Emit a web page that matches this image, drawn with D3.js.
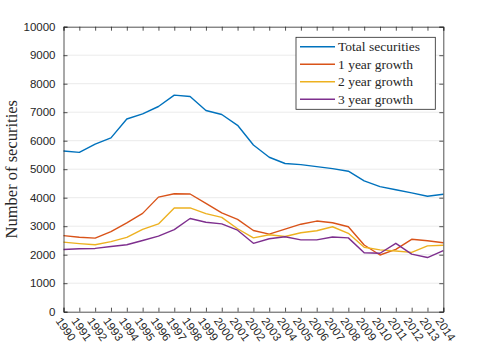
<!DOCTYPE html>
<html>
<head>
<meta charset="utf-8">
<script src="https://cdn.jsdelivr.net/npm/d3@7"></script>
<style>
  body { margin: 0; background: #fff; }
  svg text { fill: #262626; }
</style>
</head>
<body>
<div id="chart"></div>
<script>
const years = d3.range(1990, 2015);
const yTicks = d3.range(0, 10001, 1000);

const seriesNames = ['Total securities', '1 year growth', '2 year growth', '3 year growth'];
const total = [5640, 5590, 5880, 6100, 6760, 6940, 7200, 7600, 7550, 7060, 6920, 6540, 5850, 5420,
    5200, 5160, 5090, 5020, 4930, 4590, 4390, 4280, 4170, 4050, 4120];
const growth1 = [2670, 2610, 2580, 2810, 3120, 3450, 4020, 4140, 4130, 3800, 3470, 3240, 2850, 2720,
    2900, 3070, 3180, 3120, 2980, 2340, 1990, 2190, 2540, 2490, 2420];
const growth2 = [2440, 2390, 2350, 2460, 2610, 2890, 3080, 3640, 3640, 3440, 3310, 2910, 2590, 2700,
    2640, 2770, 2840, 2980, 2750, 2260, 2170, 2130, 2080, 2310, 2330];
const growth3 = [2180, 2210, 2220, 2290, 2350, 2500, 2650, 2880, 3270, 3140, 3080, 2860, 2400, 2560,
    2630, 2520, 2520, 2620, 2590, 2070, 2050, 2400, 2020, 1900, 2140];
const colors = ['#0072BD', '#D95319', '#EDB120', '#7E2F8E'];

const width = 491, height = 351;
const margin = {top: 26.7, right: 47.7, bottom: 39.3, left: 63.5};
const axisColor = '#262626';

const svg = d3.select('#chart').append('svg')
    .attr('width', width)
    .attr('height', height);

const x = d3.scaleLinear().domain([1990, 2014]).range([margin.left, width - margin.right]);
const y = d3.scaleLinear().domain([0, 10000]).range([height - margin.bottom, margin.top]);

// grid
svg.append('g')
    .selectAll('line')
    .data(yTicks.slice(1, -1))
    .join('line')
    .attr('x1', x(1990)).attr('x2', x(2014))
    .attr('y1', d => y(d)).attr('y2', d => y(d))
    .attr('stroke', '#ebebeb')
    .attr('stroke-width', 1);

// lines
const line = d3.line().x((d, i) => x(years[i])).y(d => y(d));
[total, growth1, growth2, growth3].forEach((s, i) => {
    svg.append('path')
        .attr('d', line(s))
        .attr('fill', 'none')
        .attr('stroke', colors[i])
        .attr('stroke-width', 1.4)
        .attr('stroke-linejoin', 'round');
});

// axes (ticks inside)
const tickLen = 4;
const axBottom = svg.append('g')
    .attr('transform', `translate(0,${y(0)})`)
    .call(d3.axisBottom(x).tickValues(years).tickSize(-tickLen).tickFormat(''));
const axTop = svg.append('g')
    .attr('transform', `translate(0,${y(10000)})`)
    .call(d3.axisTop(x).tickValues(years).tickSize(-tickLen).tickFormat(''));
const axLeft = svg.append('g')
    .attr('transform', `translate(${x(1990)},0)`)
    .call(d3.axisLeft(y).tickValues(yTicks).tickSize(-tickLen).tickPadding(8).tickFormat(d3.format('d')));
const axRight = svg.append('g')
    .attr('transform', `translate(${x(2014)},0)`)
    .call(d3.axisRight(y).tickValues(yTicks).tickSize(-tickLen).tickFormat(''));

[axBottom, axTop, axLeft, axRight].forEach(g => {
    g.select('.domain').attr('stroke', axisColor).attr('stroke-width', 0.8);
    g.selectAll('.tick line').attr('stroke', axisColor).attr('stroke-width', 0.8);
});
axLeft.selectAll('.tick text')
    .attr('font-family', 'Liberation Sans, Arial, sans-serif')
    .attr('font-size', 11.5)
    .attr('fill', axisColor);

// rotated year labels
svg.append('g')
    .selectAll('text')
    .data(years)
    .join('text')
    .attr('transform', d => `translate(${x(d) - 5},${y(0) + 7}) rotate(55)`)
    .attr('text-anchor', 'start')
    .attr('dy', '0.35em')
    .attr('font-family', 'Liberation Sans, Arial, sans-serif')
    .attr('font-size', 11.5)
    .text(d => d);

// y label
svg.append('text')
    .attr('transform', `translate(17,${(y(0) + y(10000)) / 2}) rotate(-90)`)
    .attr('text-anchor', 'middle')
    .attr('font-family', 'Liberation Serif, serif')
    .attr('font-size', 16.5)
    .text('Number of securities');

// legend
const legend = svg.append('g');
legend.append('rect')
    .attr('x', 296).attr('y', 37.3)
    .attr('width', 139.3).attr('height', 72)
    .attr('fill', '#fff')
    .attr('stroke', axisColor)
    .attr('stroke-width', 0.8);
seriesNames.forEach((name, i) => {
    const cy = 46.7 + i * 17.5;
    legend.append('line')
        .attr('x1', 300).attr('x2', 335)
        .attr('y1', cy).attr('y2', cy)
        .attr('stroke', colors[i])
        .attr('stroke-width', 1.4);
    legend.append('text')
        .attr('x', 338).attr('y', cy)
        .attr('dy', '0.35em')
        .attr('font-family', 'Liberation Serif, serif')
        .attr('font-size', 13.5)
        .text(name);
});
</script>
</body>
</html>
